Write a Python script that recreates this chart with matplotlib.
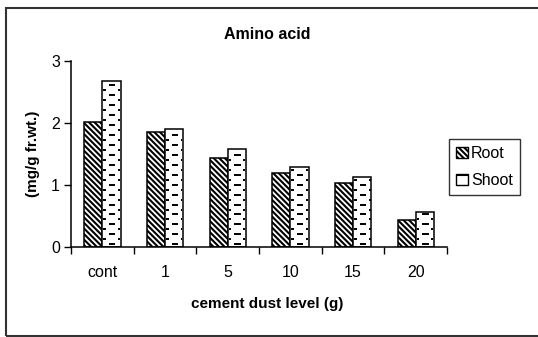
import numpy as np
import matplotlib.pyplot as plt
from matplotlib.patches import Patch, Rectangle

plt.rcParams['font.family'] = ['Liberation Sans', 'DejaVu Sans']
plt.rcParams['hatch.linewidth'] = 1.5

# -----------------------------
# Data
# -----------------------------
levels = ['cont', '1', '5', '10', '15', '20']
root = [2.01, 1.85, 1.43, 1.19, 1.03, 0.44]
shoot = [2.67, 1.90, 1.58, 1.29, 1.13, 0.57]
yticks = [0, 1, 2, 3]

# -----------------------------
# Figure
# -----------------------------
fig = plt.figure(figsize=(5.38, 3.37), dpi=100)
ax = fig.add_axes([0.132, 0.267, 0.699, 0.552])

x = np.arange(len(levels))
w = 0.29
root_hatch = '\\' * 6

ax.bar(x - w / 2, root, w, color='white', edgecolor='black', lw=1.1,
       hatch=root_hatch)
ax.bar(x + w / 2, shoot, w, color='white', edgecolor='black', lw=1.1)

# dashed "brick" fill of the shoot bars
step = 0.16
for xi, h in zip(x, shoot):
    left = xi
    for k, yy in enumerate(np.arange(0.045, h - 0.03, step / 2)):
        if k % 2 == 0:
            ax.hlines(yy, left + 0.36 * w, left + 0.72 * w, color='black', lw=1.4)
        else:
            ax.hlines(yy, left + 0.06 * w, left + 0.2 * w, color='black', lw=1.4)
            ax.hlines(yy, left + 0.86 * w, left + 0.96 * w, color='black', lw=1.4)

ax.set_xlim(-0.5, len(levels) - 0.5)
ax.set_ylim(0, 3)
ax.set_yticks(yticks)
ax.tick_params(axis='y', direction='out', length=5, width=1, pad=3, labelsize=11.5)

ax.set_xticks(np.arange(-0.5, len(levels), 1.0))
ax.set_xticklabels([])
ax.tick_params(axis='x', which='major', direction='out', length=5, width=1)
ax.set_xticks(x, minor=True)
ax.set_xticklabels(levels, minor=True)
ax.tick_params(axis='x', which='minor', length=0, pad=13, labelsize=11.5)

for s in ['top', 'right']:
    ax.spines[s].set_visible(False)
for s in ['left', 'bottom']:
    ax.spines[s].set_linewidth(1.1)

# -----------------------------
# Texts
# -----------------------------
fig.text(0.496, 0.899, 'Amino acid', ha='center', va='center',
         fontsize=11.5, fontweight='bold')
fig.text(0.496, 0.098, 'cement dust level (g)', ha='center', va='center',
         fontsize=11, fontweight='bold')
fig.text(0.061, 0.543, '(mg/g fr.wt.)', ha='center', va='center',
         rotation=90, fontsize=11, fontweight='bold')

# -----------------------------
# Legend
# -----------------------------
handles = [
    Patch(facecolor='white', edgecolor='black', hatch=root_hatch, label='Root'),
    Patch(facecolor='white', edgecolor='black', hatch='-', label='Shoot'),
]
leg = fig.legend(handles=handles, loc='upper left',
                 bbox_to_anchor=(0.835, 0.588), bbox_transform=fig.transFigure,
                 borderaxespad=0, fontsize=11.5, fancybox=False,
                 handlelength=0.7, handleheight=0.75, handletextpad=0.2,
                 labelspacing=0.75, borderpad=0.45)
leg.get_frame().set_edgecolor('black')
leg.get_frame().set_linewidth(1.0)

# -----------------------------
# Outer chart border
# -----------------------------
fig.patches.append(Rectangle((0.011, 0.003), 1.2, 0.973, transform=fig.transFigure,
                             fill=False, edgecolor='#333333', lw=1.5))

fig.savefig('out.png', dpi=100)
